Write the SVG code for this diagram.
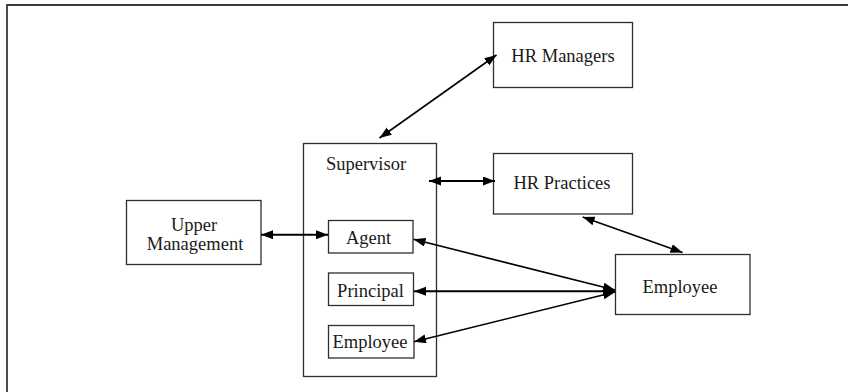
<svg xmlns="http://www.w3.org/2000/svg" width="848" height="392" viewBox="0 0 848 392">
  <style>
    .box { fill: #ffffff; stroke: #2e2e2e; stroke-width: 1.3; }
    .lbl { font-family: "Liberation Serif", "Times New Roman", serif; font-size: 18.5px; fill: #1a1a1a; text-anchor: middle; }
    .link { stroke: #000000; stroke-width: 1.6; fill: none; marker-start: url(#head); marker-end: url(#head); }
    .frame { stroke: #3a3a3a; stroke-width: 1.8; fill: none; }
  </style>
  <defs>
    <marker id="head" markerUnits="userSpaceOnUse" markerWidth="13" markerHeight="10" refX="12" refY="4.5" orient="auto-start-reverse">
      <path d="M0,0 L12,4.5 L0,9 Z" fill="#000000"/>
    </marker>
  </defs>

  <rect width="848" height="392" fill="#ffffff"/>

  <!-- page frame: top and left edges -->
  <path class="frame" d="M7,392 V5 H848"/>

  <g id="hr-managers">
    <rect class="box" x="493.5" y="22.5" width="139" height="65"/>
    <text class="lbl" x="563" y="61.5">HR Managers</text>
  </g>

  <g id="supervisor">
    <rect class="box" x="303.5" y="143.5" width="133" height="233"/>
    <text class="lbl" x="366" y="169.5">Supervisor</text>
  </g>

  <g id="hr-practices">
    <rect class="box" x="493.5" y="153.5" width="139" height="60.5"/>
    <text class="lbl" x="562" y="189">HR Practices</text>
  </g>

  <g id="upper-management">
    <rect class="box" x="126.5" y="200.5" width="134.5" height="64"/>
    <text class="lbl" x="194" y="231">Upper</text>
    <text class="lbl" x="195" y="250">Management</text>
  </g>

  <g id="agent">
    <rect class="box" x="328.5" y="220.5" width="84.5" height="32.5"/>
    <text class="lbl" x="368.5" y="244">Agent</text>
  </g>

  <g id="principal">
    <rect class="box" x="328.5" y="273" width="85" height="32.5"/>
    <text class="lbl" x="370.5" y="297">Principal</text>
  </g>

  <g id="employee-role">
    <rect class="box" x="328.5" y="325.5" width="85.5" height="32.5"/>
    <text class="lbl" x="370" y="347.5">Employee</text>
  </g>

  <g id="employee">
    <rect class="box" x="615.5" y="254.5" width="134.5" height="60"/>
    <text class="lbl" x="680" y="293">Employee</text>
  </g>

  <g id="connectors">
    <line class="link" x1="379.5" y1="138" x2="496.5" y2="55"/>
    <line class="link" x1="429" y1="181" x2="495" y2="181" style="stroke-width:2"/>
    <line class="link" x1="261" y1="234.7" x2="328" y2="234.7" style="stroke-width:2"/>
    <line class="link" x1="413.5" y1="239.3" x2="615" y2="290"/>
    <line class="link" x1="414" y1="291.2" x2="615" y2="291.2" style="stroke-width:2"/>
    <line class="link" x1="414" y1="341.7" x2="615" y2="292"/>
    <line class="link" x1="582.7" y1="217" x2="682.5" y2="252.5"/>
  </g>
</svg>
